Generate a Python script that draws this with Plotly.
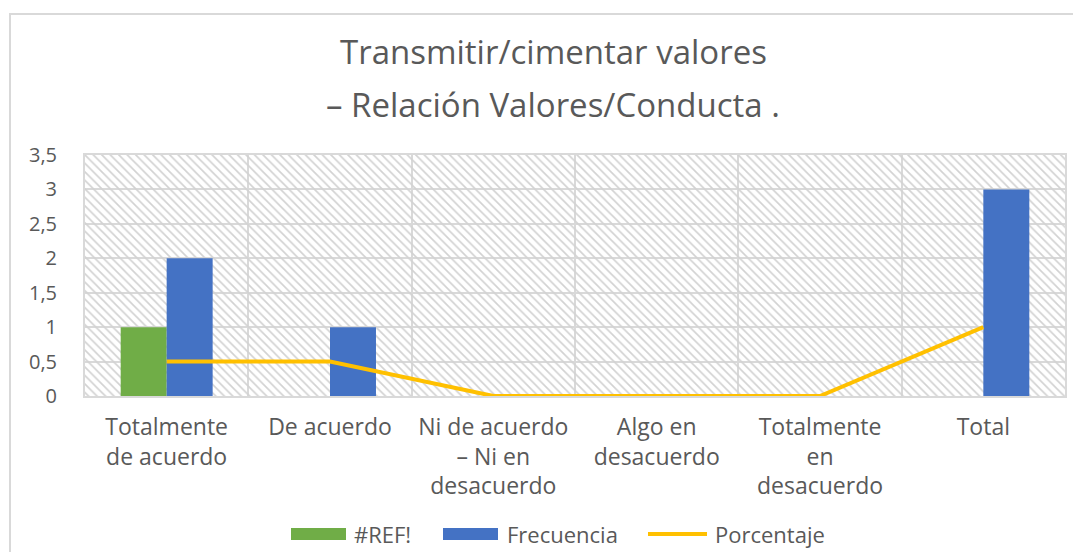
import plotly.graph_objects as go

categories = [
    "Totalmente<br>de acuerdo",
    "De acuerdo",
    "Ni de acuerdo<br>– Ni en<br>desacuerdo",
    "Algo en<br>desacuerdo",
    "Totalmente<br>en<br>desacuerdo",
    "Total",
]
ref_values = [1, 0, 0, 0, 0, 0]
frecuencia = [2, 1, 0, 0, 0, 3]
porcentaje = [0.5, 0.5, 0, 0, 0, 1]
y_ticks = [0, 0.5, 1, 1.5, 2, 2.5, 3, 3.5]
series_names = ["#REF!", "Frecuencia", "Porcentaje"]
series_colors = ["#70AD47", "#4472C4", "#FFC000"]
title_lines = ["Transmitir/cimentar valores", "– Relación Valores/Conducta ."]

TXT = "#595959"
GRID = "#d9d9d9"
FONT = "Open Sans"

# figure geometry (page body has an 8px margin)
W, H = 1065, 544
ML, MR, MT, MB = 77, 8, 147, 156
PW, PH = W - ML - MR, H - MT - MB


def px(fx):
    return (fx - ML) / PW


def py(fy):
    return (H - MB - fy) / PH


fig = go.Figure()

# hatched plot-area background (on hidden numeric axis x)
fig.add_trace(go.Bar(
    x=[0.5], y=[y_ticks[-1]], width=[1], xaxis="x", yaxis="y",
    marker=dict(color="rgba(0,0,0,0)", line=dict(width=0),
                pattern=dict(shape="\\", size=6, solidity=0.28,
                             fgcolor="#d2d2d2", fillmode="replace")),
    showlegend=False, hoverinfo="skip",
))

fig.add_trace(go.Bar(
    x=categories, y=ref_values, name=series_names[0], xaxis="x2", yaxis="y",
    marker=dict(color=series_colors[0], line=dict(width=0)), showlegend=False,
))
fig.add_trace(go.Bar(
    x=categories, y=frecuencia, name=series_names[1], xaxis="x2", yaxis="y",
    marker=dict(color=series_colors[1], line=dict(width=0)), showlegend=False,
))
fig.add_trace(go.Scatter(
    x=categories, y=porcentaje, name=series_names[2], xaxis="x2", yaxis="y",
    mode="lines", line=dict(color=series_colors[2], width=4), showlegend=False,
))

fig.update_layout(
    width=W, height=H,
    margin=dict(l=ML, r=MR, t=MT, b=MB, autoexpand=False),
    paper_bgcolor="white", plot_bgcolor="white",
    separators=",.",
    barmode="group", bargap=0.437, bargroupgap=0,
    font=dict(family=FONT, color=TXT),
    xaxis=dict(range=[0, 1], visible=False, fixedrange=True),
    xaxis2=dict(
        overlaying="x", anchor="y", side="bottom", type="category",
        tickson="boundaries", showgrid=True, gridcolor=GRID, gridwidth=2,
        ticks="", showline=True, linecolor=GRID, linewidth=2, mirror=True,
        ticklabelstandoff=9, tickangle=0,
        tickfont=dict(size=23, color=TXT, family=FONT),
    ),
    yaxis=dict(
        range=[0, y_ticks[-1]], tickvals=y_ticks, showgrid=True, gridcolor=GRID,
        gridwidth=2, zeroline=False, showline=True, linecolor=GRID,
        linewidth=2, mirror=True, ticks="", ticklabelstandoff=22,
        tickfont=dict(size=20, color=TXT, family=FONT),
    ),
    showlegend=False,
)

# title (two lines)
for line_text, fy in zip(title_lines, [44, 96]):
    fig.add_annotation(text=line_text, xref="paper", yref="paper",
                       x=px(545), y=py(fy), xanchor="center", yanchor="middle",
                       showarrow=False, font=dict(size=33, color=TXT, family=FONT))

# custom legend (wide swatches like the original)
leg_y = 526
swatches = [(283, 338), (435, 490), (640, 699)]
label_x = [344, 497, 705]
for i, (name, color) in enumerate(zip(series_names, series_colors)):
    x0, x1 = swatches[i]
    if i < 2:
        fig.add_shape(type="rect", xref="paper", yref="paper",
                      x0=px(x0), x1=px(x1), y0=py(leg_y - 6), y1=py(leg_y + 6),
                      fillcolor=color, line=dict(width=0))
    else:
        fig.add_shape(type="line", xref="paper", yref="paper",
                      x0=px(x0), x1=px(x1), y0=py(leg_y), y1=py(leg_y),
                      line=dict(color=color, width=4))
    fig.add_annotation(text=name, xref="paper", yref="paper",
                       x=px(label_x[i]), y=py(leg_y), xanchor="left", yanchor="middle",
                       showarrow=False, font=dict(size=22, color=TXT, family=FONT))

# chart outer border
fig.add_shape(type="rect", xref="paper", yref="paper",
              x0=px(2), x1=px(W + 20), y0=py(H + 20), y1=py(6),
              line=dict(color=GRID, width=2), layer="below")

fig.write_html("out.html")
